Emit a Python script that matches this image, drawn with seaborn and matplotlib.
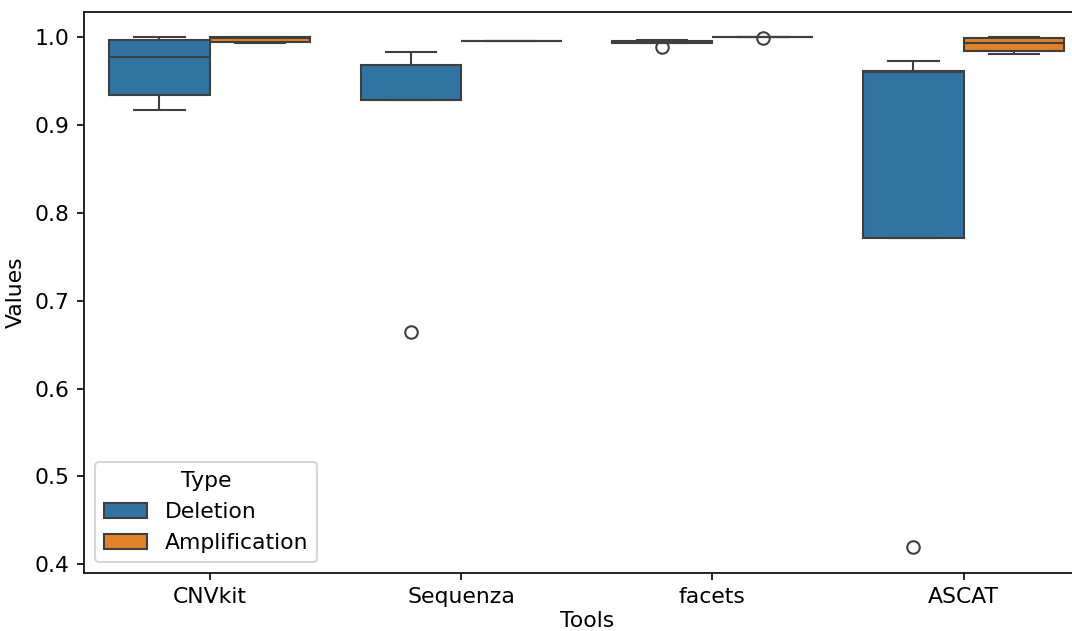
import pandas as pd
import seaborn as sns
import matplotlib
matplotlib.use("Agg")
import matplotlib.pyplot as plt

plt.rcParams["font.size"] = 10.5

tools = ["CNVkit", "Sequenza", "facets", "ASCAT"]

# values, five samples per box
cnvkit_del = [0.917, 0.934, 0.978, 0.997, 1.0]
cnvkit_amp = [0.994, 0.995, 0.999, 1.0, 1.0]
sequenza_del = [0.664, 0.929, 0.929, 0.968, 0.983]
sequenza_amp = [0.996, 0.996, 0.996, 0.996, 0.996]
facets_del = [0.989, 0.994, 0.995, 0.996, 0.997]
facets_amp = [0.9998, 1.0, 1.0, 1.0, 1.0]
ascat_del = [0.42, 0.771, 0.960, 0.962, 0.973]
ascat_amp = [0.981, 0.9845, 0.993, 0.9997, 1.0]

groups = {
    ("CNVkit", "Deletion"): cnvkit_del,
    ("CNVkit", "Amplification"): cnvkit_amp,
    ("Sequenza", "Deletion"): sequenza_del,
    ("Sequenza", "Amplification"): sequenza_amp,
    ("facets", "Deletion"): facets_del,
    ("facets", "Amplification"): facets_amp,
    ("ASCAT", "Deletion"): ascat_del,
    ("ASCAT", "Amplification"): ascat_amp,
}

rows = []
for (tool, kind), vals in groups.items():
    for v in vals:
        rows.append({"Tools": tool, "Type": kind, "Values": v})
df = pd.DataFrame(rows)

fig = plt.figure(figsize=(1072 / 150, 631 / 150), dpi=150)
# the reference is cropped on the right, so the axes run past the edge
ax = fig.add_axes([0.0784, 0.0924, 0.9378, 0.8881])

sns.boxplot(data=df, x="Tools", y="Values", hue="Type", order=tools,
            hue_order=["Deletion", "Amplification"], ax=ax)
ax.set_ylim(0.3904, 1.0285)
ax.set_xlabel("Tools", labelpad=2)
ax.legend(title="Type", loc="lower left")

fig.savefig("out.png", dpi=150)
